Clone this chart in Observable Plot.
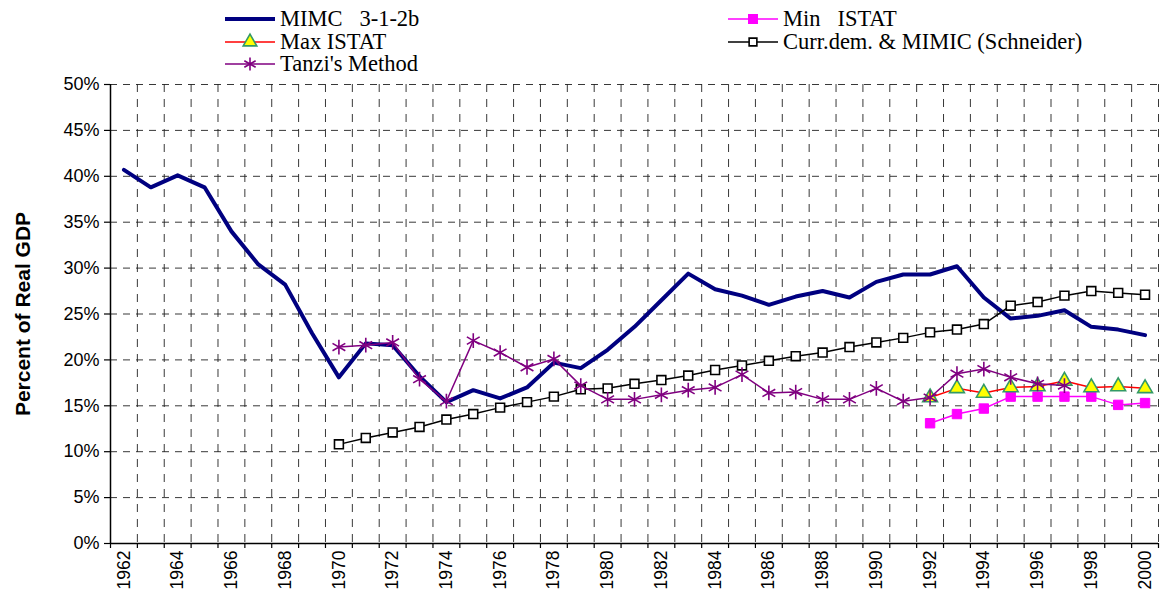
<!DOCTYPE html>
<html><head><meta charset="utf-8">
<script src="https://cdn.jsdelivr.net/npm/d3@7"></script>
<script src="https://cdn.jsdelivr.net/npm/@observablehq/plot@0.6"></script>
<style>
body{margin:0;background:#fff;}
#wrap{position:relative;width:1160px;height:603px;overflow:hidden;background:#fff;}
.leg{position:absolute;font-family:"Liberation Serif","Times New Roman",serif;font-size:22.5px;white-space:pre;display:flex;align-items:center;height:22px;line-height:22px;color:#000;}
.leg svg{margin-right:5px;flex:none;}
#chart{position:absolute;left:0;top:64px;}
</style></head><body>
<div id="wrap"><div id="legend"></div><div id="chart"></div></div>
<script>
// ---- data ----
const years = [1962,1963,1964,1965,1966,1967,1968,1969,1970,1971,1972,1973,1974,1975,1976,1977,1978,1979,1980,1981,1982,1983,1984,1985,1986,1987,1988,1989,1990,1991,1992,1993,1994,1995,1996,1997,1998,1999,2000];
const mimc = [40.7,38.8,40.1,38.8,34.0,30.4,28.2,22.9,18.1,21.8,21.6,18.2,15.4,16.7,15.8,17.0,19.7,19.1,21.1,23.6,26.5,29.4,27.7,27.0,26.0,26.9,27.5,26.8,28.5,29.3,29.3,30.2,26.8,24.5,24.8,25.4,23.6,23.3,22.7];
const minIstat = [13.1,14.1,14.7,16.0,16.0,16.0,16.0,15.1,15.3]; // 1992-2000
const maxIstat = [15.9,16.9,16.4,17.0,17.1,17.7,17.0,17.1,16.9]; // 1992-2000
const schneider = [10.8,11.5,12.1,12.7,13.5,14.1,14.8,15.4,16.0,16.8,16.9,17.4,17.8,18.3,18.9,19.4,19.9,20.4,20.8,21.4,21.9,22.4,23.0,23.3,23.9,25.9,26.3,27.0,27.5,27.3,27.1]; // 1970-2000
const tanzi = [21.4,21.6,21.9,17.9,15.5,22.1,20.8,19.2,20.1,17.2,15.7,15.7,16.2,16.7,17.0,18.4,16.4,16.5,15.7,15.7,16.9,15.5,15.9,18.5,19.0,18.1,17.4,17.2]; // 1970-1997
const yTicks = [0,5,10,15,20,25,30,35,40,45,50];
const xLabels = [1962,1964,1966,1968,1970,1972,1974,1976,1978,1980,1982,1984,1986,1988,1990,1992,1994,1996,1998,2000];
const seriesNames = ["MIMC   3-1-2b","Min   ISTAT","Max ISTAT","Curr.dem. & MIMIC (Schneider)","Tanzi's Method"];

function rows(startYear, values){
  const i0 = years.indexOf(startYear);
  return values.map((v,i)=>({year: years[i0+i], value: v}));
}
const mimcRows = rows(1962, mimc);
const minRows = rows(1992, minIstat);
const maxRows = rows(1992, maxIstat);
const schRows = rows(1970, schneider);
const tanziRows = rows(1970, tanzi);

const boundaries = d3.range(years[0]-0.5, years[years.length-1]+1, 1);
const dashH = {stroke:"#222", strokeOpacity:0.9, strokeDasharray:"7,6", strokeWidth:1};
const dashV = {stroke:"#222", strokeOpacity:0.9, strokeDasharray:"8,7", strokeWidth:1};

const chart = Plot.plot({
  width:1160, height:539,
  marginLeft:110, marginRight:2, marginTop:20, marginBottom:60,
  style:{fontFamily:'"Liberation Sans",Arial,sans-serif', fontSize:"17px", color:"#000", background:"transparent", overflow:"visible"},
  x:{domain:[years[0]-0.5, years[years.length-1]+0.5]},
  y:{domain:[0,50]},
  marks:[
    Plot.gridY(yTicks.filter(d=>d>0), dashH),
    Plot.gridX(boundaries.slice(1), dashV),
    Plot.axisY(yTicks, {tickFormat:d=>d+"%", tickSize:6, tickPadding:5, label:null, strokeWidth:1.2, fontSize:18}),
    Plot.axisX(boundaries, {tickSize:5, tickFormat:()=>"", label:null, strokeWidth:1.2}),
    Plot.axisX(xLabels, {tickSize:0, tickRotate:-90, tickPadding:7, label:null, tickFormat:d=>String(d), fontSize:17.5}),
    Plot.ruleX([years[0]-0.5],{stroke:"#000", strokeWidth:1.5}),
    Plot.ruleY([0],{stroke:"#000", strokeWidth:1.5}),
    Plot.text(["Percent of Real GDP"],{frameAnchor:"left", dx:-87, rotate:-90, textAnchor:"middle", fontWeight:"bold", fontSize:21}),
    // MIMC
    Plot.line(mimcRows,{x:"year", y:"value", stroke:"#000080", strokeWidth:4}),
    // Min ISTAT
    Plot.line(minRows,{x:"year", y:"value", stroke:"#FF00FF", strokeWidth:1.5}),
    Plot.dot(minRows,{x:"year", y:"value", symbol:"square", r:5.3, fill:"#FF00FF", stroke:"#FF00FF", strokeWidth:1}),
    // Max ISTAT
    Plot.line(maxRows,{x:"year", y:"value", stroke:"#FF0000", strokeWidth:1.5}),
    Plot.dot(maxRows,{x:"year", y:"value", symbol:"triangle", r:5.5, fill:"#FFFF00", stroke:"#339966", strokeWidth:1.6}),
    // Schneider
    Plot.line(schRows,{x:"year", y:"value", stroke:"#000", strokeWidth:1.5}),
    Plot.dot(schRows,{x:"year", y:"value", symbol:"square", r:5, fill:"#fff", stroke:"#000", strokeWidth:1.6}),
    // Tanzi
    Plot.line(tanziRows,{x:"year", y:"value", stroke:"#800080", strokeWidth:1.5}),
    Plot.dot(tanziRows,{x:"year", y:"value", symbol:"asterisk", r:7, stroke:"#800080", strokeWidth:1.6})
  ]
});
document.getElementById("chart").appendChild(chart);

// ---- legend ----
const legendItems = [
  {name:seriesNames[0], color:"#000080", width:4, symbol:null, left:225, cy:19},
  {name:seriesNames[2], color:"#FF0000", width:1.5, symbol:d3.symbolTriangle, size:80, fill:"#FFFF00", mstroke:"#339966", left:225, cy:42},
  {name:seriesNames[4], color:"#800080", width:1.5, symbol:d3.symbolAsterisk, size:120, fill:"none", mstroke:"#800080", left:225, cy:64},
  {name:seriesNames[1], color:"#FF00FF", width:1.5, symbol:d3.symbolSquare, size:70, fill:"#FF00FF", mstroke:"#FF00FF", left:728, cy:19},
  {name:seriesNames[3], color:"#000", width:1.5, symbol:d3.symbolSquare, size:60, fill:"#fff", mstroke:"#000", left:728, cy:42}
];
const lg = document.getElementById("legend");
for (const it of legendItems){
  const div = document.createElement("div");
  div.className = "leg";
  div.style.left = it.left+"px";
  div.style.top = (it.cy-11)+"px";
  let marker = "";
  if (it.symbol){
    marker = `<path transform="translate(25,11)" d="${d3.symbol(it.symbol, it.size)()}" fill="${it.fill}" stroke="${it.mstroke}" stroke-width="1.6"/>`;
  }
  div.innerHTML = `<svg width="50" height="22"><line x1="0" x2="50" y1="11" y2="11" stroke="${it.color}" stroke-width="${it.width}"/>${marker}</svg><span></span>`;
  div.querySelector("span").textContent = it.name;
  lg.appendChild(div);
}
</script>
</body></html>
